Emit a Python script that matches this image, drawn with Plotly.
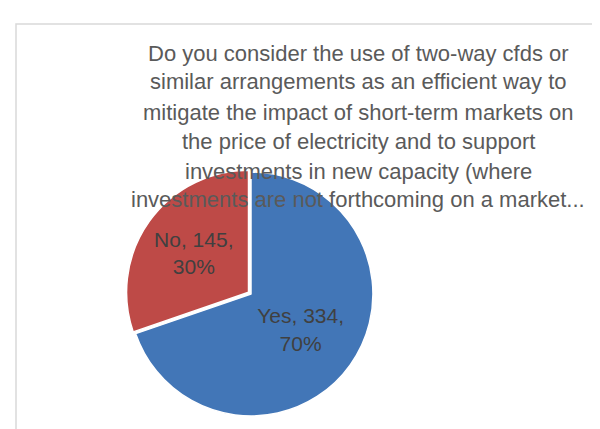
import plotly.graph_objects as go

# survey answers
labels = ["Yes", "No"]
counts = [334, 145]
colors = ["#4276B7", "#BE4A47"]

title_lines = [
    "Do you consider the use of two-way cfds or",
    "similar arrangements as an efficient way to",
    "mitigate the impact of short-term markets on",
    "the price of electricity and to support",
    "investments in new capacity (where",
    "investments are not forthcoming on a market...",
]

W, H = 600, 429

fig = go.Figure(go.Pie(
    labels=labels,
    values=counts,
    sort=False,
    direction="clockwise",
    rotation=0,
    pull=[0, 0.025],
    marker=dict(colors=colors, line=dict(color="white", width=1.5)),
    texttemplate="%{label}, %{value},<br>%{percent:.0%}",
    textposition="inside",
    insidetextorientation="horizontal",
    textfont=dict(family="Liberation Sans", size=21, color="#404040"),
    domain=dict(x=[118 / W, 368 / W], y=[18 / H, 268 / H]),
    showlegend=False,
    hoverinfo="label+value+percent",
))

# the title sits on top of the pie, one annotation per line
line_y = [45, 74, 104, 133, 163, 192]
for txt, yy in zip(title_lines, line_y):
    fig.add_annotation(
        text=txt, x=350 / W, y=1 - yy / H, xref="paper", yref="paper",
        xanchor="center", yanchor="middle", showarrow=False,
        font=dict(family="Liberation Sans", size=22, color="#5A5A5A"),
    )

# light frame of the chart area (left and top edges visible)
fig.add_shape(type="rect", xref="paper", yref="paper",
              x0=8 / W, x1=1.05, y0=-0.05, y1=1 - 16 / H,
              line=dict(color="#D9D9D9", width=1.5), layer="below")

fig.update_layout(
    width=W, height=H,
    margin=dict(l=0, r=0, t=0, b=0),
    paper_bgcolor="white",
    plot_bgcolor="white",
)

fig.write_html("out.html")
